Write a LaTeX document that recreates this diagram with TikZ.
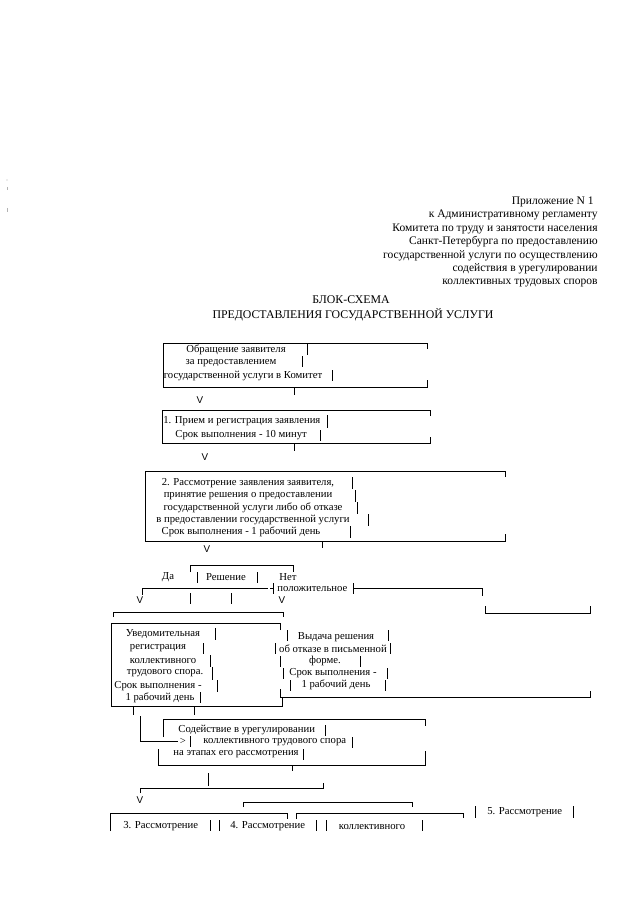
\documentclass[tikz,border=0pt]{standalone}
\usepackage{fontspec}
\setmainfont{Liberation Serif}
\setsansfont{Liberation Sans}
\usetikzlibrary{positioning}

\begin{document}
\begin{tikzpicture}[x=0.025cm, y=-0.025cm, line width=0.55pt,
  txt/.style={inner sep=0pt, font=\fontsize{7.6}{9}\selectfont},
  hdr/.style={inner sep=0pt, anchor=east, font=\fontsize{8.2}{10}\selectfont},
  ttl/.style={inner sep=0pt, font=\fontsize{8.4}{10}\selectfont},
  vmark/.style={inner sep=0pt, font=\sffamily\fontsize{7}{8}\selectfont}]
\useasboundingbox (0,0) rectangle (640,905);

% scan marks
\fill[gray!60] (7,180) circle (0.6);
\draw[gray!60] (7,187) -- (7,190);
\draw[gray!60] (7,208) -- (7,212);

% header
\node[hdr] (h1) at (594,202) {Приложение N 1};
\node[hdr] (h2) at (598,215) {к Административному регламенту};
\node[hdr] (h3) at (598,229) {Комитета по труду и занятости населения};
\node[hdr] (h4) at (598,242) {Санкт-Петербурга по предоставлению};
\node[hdr] (h5) at (598,256) {государственной услуги по осуществлению};
\node[hdr] (h6) at (598,269) {содействия в урегулировании};
\node[hdr] (h7) at (598,283) {коллективных трудовых споров};

\node[ttl] (t1) at (351,300) {БЛОК-СХЕМА};
\node[ttl] (t2) at (353,315) {ПРЕДОСТАВЛЕНИЯ ГОСУДАРСТВЕННОЙ УСЛУГИ};

% box 1
\draw (427,349) -- (427,343) -- (163,343) -- (163,387) -- (427,387) -- (427,380);
\node[txt] (b1a) at (236,350) {Обращение заявителя};
\node[txt] (b1b) at (231,363) {за предоставлением};
\node[txt] (b1c) at (243,376) {государственной услуги в Комитет};
\foreach \x/\a/\b in {307/344/355, 302/356/367, 332/370/381, 294/388/395}
  \draw (\x,\a) -- (\x,\b);
\node[vmark] (v1) at (200,400) {V};

% box 2
\draw (430,416) -- (430,410) -- (162,410) -- (162,443) -- (430,443) -- (430,437);
\node[txt, anchor=west] (b2a) at (163,421) {1. Прием и регистрация заявления};
\node[txt, anchor=west] (b2b) at (175,435) {Срок выполнения - 10 минут};
\foreach \x/\a/\b in {327/415/428, 320/430/441, 294/444/451}
  \draw (\x,\a) -- (\x,\b);
\node[vmark] (v2) at (205,457) {V};

% box 3
\draw (505,477) -- (505,471) -- (145,471) -- (145,541) -- (505,541) -- (505,534);
\node[txt] (b3a) at (248,483) {2. Рассмотрение заявления заявителя,};
\node[txt] (b3b) at (248,496) {принятие решения о предоставлении};
\node[txt] (b3c) at (253,508) {государственной услуги либо об отказе};
\node[txt] (b3d) at (253,520) {в предоставлении государственной услуги};
\node[txt] (b3e) at (241,532) {Срок выполнения - 1 рабочий день};
\foreach \x/\a/\b in {352/477/489, 355/490/502, 357/502/514, 368/514/526, 350/526/538, 322/542/548}
  \draw (\x,\a) -- (\x,\b);
\node[vmark] (v3) at (207,549) {V};

% decision
\draw (190,572) -- (190,565) -- (293,565) -- (293,572);
\node[txt] (da) at (168,577) {Да};
\node[txt] (res) at (226,577) {Решение};
\node[txt] (net) at (288,577) {Нет};
\foreach \x/\a/\b in {197/572/583, 257/572/583}
  \draw (\x,\a) -- (\x,\b);
\draw (142,595) -- (142,588) -- (265,588);
\draw[dashed, dash pattern=on 2pt off 1.5pt] (265,588) -- (273,588);
\draw (273,583) -- (273,594);
\node[txt, anchor=west] (pol) at (277,589) {положительное};
\draw (353,583) -- (353,594);
\draw (353,588) -- (482,588) -- (482,596);
\node[vmark] (v4) at (140,600) {V};
\node[vmark] (v5) at (282,600) {V};
\foreach \x in {190, 231}
  \draw (\x,593) -- (\x,604);
\draw (113,617) -- (113,612) -- (283,612) -- (283,617);
\draw (485,606) -- (485,613) -- (590,613) -- (590,606);

% box 4
\draw (280,630) -- (280,623) -- (111,623) -- (111,706) -- (282,706) -- (282,698);
\node[txt] (b4a) at (163,634) {Уведомительная};
\node[txt] (b4b) at (158,648) {регистрация};
\node[txt] (b4c) at (163,661) {коллективного};
\node[txt] (b4d) at (165,673) {трудового спора.};
\node[txt] (b4e) at (158,686) {Срок выполнения -};
\node[txt] (b4f) at (160,698) {1 рабочий день};
\foreach \x/\a/\b in {215/628/640, 203/643/654, 210/655/667, 212/667/680, 217/680/692, 200/692/703}
  \draw (\x,\a) -- (\x,\b);

% refusal
\node[txt] (b5a) at (336,637) {Выдача решения};
\node[txt] (b5b) at (333,649) {об отказе в письменной};
\node[txt] (b5c) at (325,661) {форме.};
\node[txt] (b5d) at (333,673) {Срок выполнения -};
\node[txt] (b5e) at (336,685) {1 рабочий день};
\foreach \x/\a/\b in {287/630/641, 388/630/641, 275/643/654, 390/643/654, 280/656/667, 360/656/667,
  283/668/679, 387/668/679, 290/680/691, 385/680/691}
  \draw (\x,\a) -- (\x,\b);
\draw (280,689) -- (280,697) -- (590,697) -- (590,691);

% box 6
\foreach \x in {133, 194}
  \draw (\x,707) -- (\x,715);
\draw (140,716) -- (140,741) -- (178,741);
\node[txt] (gt) at (183,741) {>};
\draw (163,737) -- (163,719) -- (425,719) -- (425,726);
\draw (158,749) -- (158,765) -- (425,765) -- (425,751);
\node[txt, anchor=west] (b6a) at (178,730) {Содействие в урегулировании};
\node[txt, anchor=west] (b6b) at (203,742) {коллективного трудового спора};
\node[txt, anchor=west] (b6c) at (173,754) {на этапах его рассмотрения};
\foreach \x/\a/\b in {190/736/747, 325/725/736, 352/737/748, 303/749/760}
  \draw (\x,\a) -- (\x,\b);

% bottom row
\draw (208,773) -- (208,786);
\draw (292,766) -- (292,771);
\draw (140,793) -- (140,788) -- (323,788) -- (323,783);
\node[vmark] (v6) at (140,800) {V};
\draw (243,807) -- (243,802) -- (412,802) -- (412,807);
\draw (110,831) -- (110,813) -- (287,813) -- (287,819);
\draw (296,819) -- (296,813) -- (463,813) -- (463,818);
\node[txt, anchor=west] (b7a) at (123,826) {3. Рассмотрение};
\node[txt, anchor=west] (b7b) at (230,826) {4. Рассмотрение};
\node[txt] (b7c) at (372,827) {коллективного};
\node[txt, anchor=west] (b7d) at (487,812) {5. Рассмотрение};
\foreach \x/\a/\b in {210/820/831, 219/820/831, 316/820/831, 326/820/831, 422/820/831,
  475/806/818, 573/806/818}
  \draw (\x,\a) -- (\x,\b);
\end{tikzpicture}
\end{document}
